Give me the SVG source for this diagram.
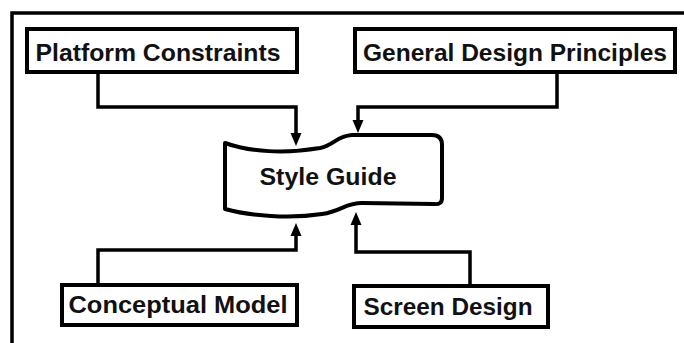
<svg xmlns="http://www.w3.org/2000/svg" width="684" height="343" viewBox="0 0 684 343">
<defs>
<style>
.box{fill:#fff;stroke:#000;stroke-width:4}
.lbl{font-family:"Liberation Sans",Arial,sans-serif;font-weight:bold;font-size:24.5px;fill:#111;text-anchor:middle}
.conn{fill:none;stroke:#000;stroke-width:3.5;stroke-linejoin:miter}
</style>
<marker id="arr" markerUnits="userSpaceOnUse" markerWidth="14" markerHeight="12" refX="0" refY="6" orient="auto" viewBox="0 0 14 12">
<path d="M0,0.5 L13,6 L0,11.5 Z" fill="#000"/>
</marker>
</defs>
<rect width="684" height="343" fill="#fff"/>
<path d="M12,346 V13 H687" fill="none" stroke="#000" stroke-width="3.5"/>
<g id="connectors">
<path class="conn" d="M98,73 V107 H296 V133" marker-end="url(#arr)"/>
<path class="conn" d="M557,73 V107 H358 V120" marker-end="url(#arr)"/>
<path class="conn" d="M98,285 V250 H296 V236" marker-end="url(#arr)"/>
<path class="conn" d="M470,286 V252 H356 V225" marker-end="url(#arr)"/>
</g>
<g id="platform">
<rect class="box" x="27" y="29" width="270" height="43"/>
<text class="lbl" x="158" y="61" textLength="245" lengthAdjust="spacingAndGlyphs">Platform Constraints</text>
</g>
<g id="general">
<rect class="box" x="355" y="29" width="320" height="43"/>
<text class="lbl" x="515" y="61" textLength="304" lengthAdjust="spacingAndGlyphs">General Design Principles</text>
</g>
<g id="styleguide">
<path d="M225,143 C250,152 285,154 320,148 C335,145 336,136 352,135 L432,135 Q442,135 442,145 L442,198 Q442,205 434,204 L362,203 C345,203 342,211 322,214 C290,219 250,216 225,209 Z" fill="#fff" stroke="#000" stroke-width="4" stroke-linejoin="round"/>
<text class="lbl" x="328" y="185" textLength="137" lengthAdjust="spacingAndGlyphs">Style Guide</text>
</g>
<g id="conceptual">
<rect class="box" x="62" y="285" width="235" height="40"/>
<text class="lbl" x="178" y="313" textLength="219" lengthAdjust="spacingAndGlyphs">Conceptual Model</text>
</g>
<g id="screen">
<rect class="box" x="354" y="286" width="194" height="41"/>
<text class="lbl" x="448" y="315" textLength="169" lengthAdjust="spacingAndGlyphs">Screen Design</text>
</g>
</svg>
